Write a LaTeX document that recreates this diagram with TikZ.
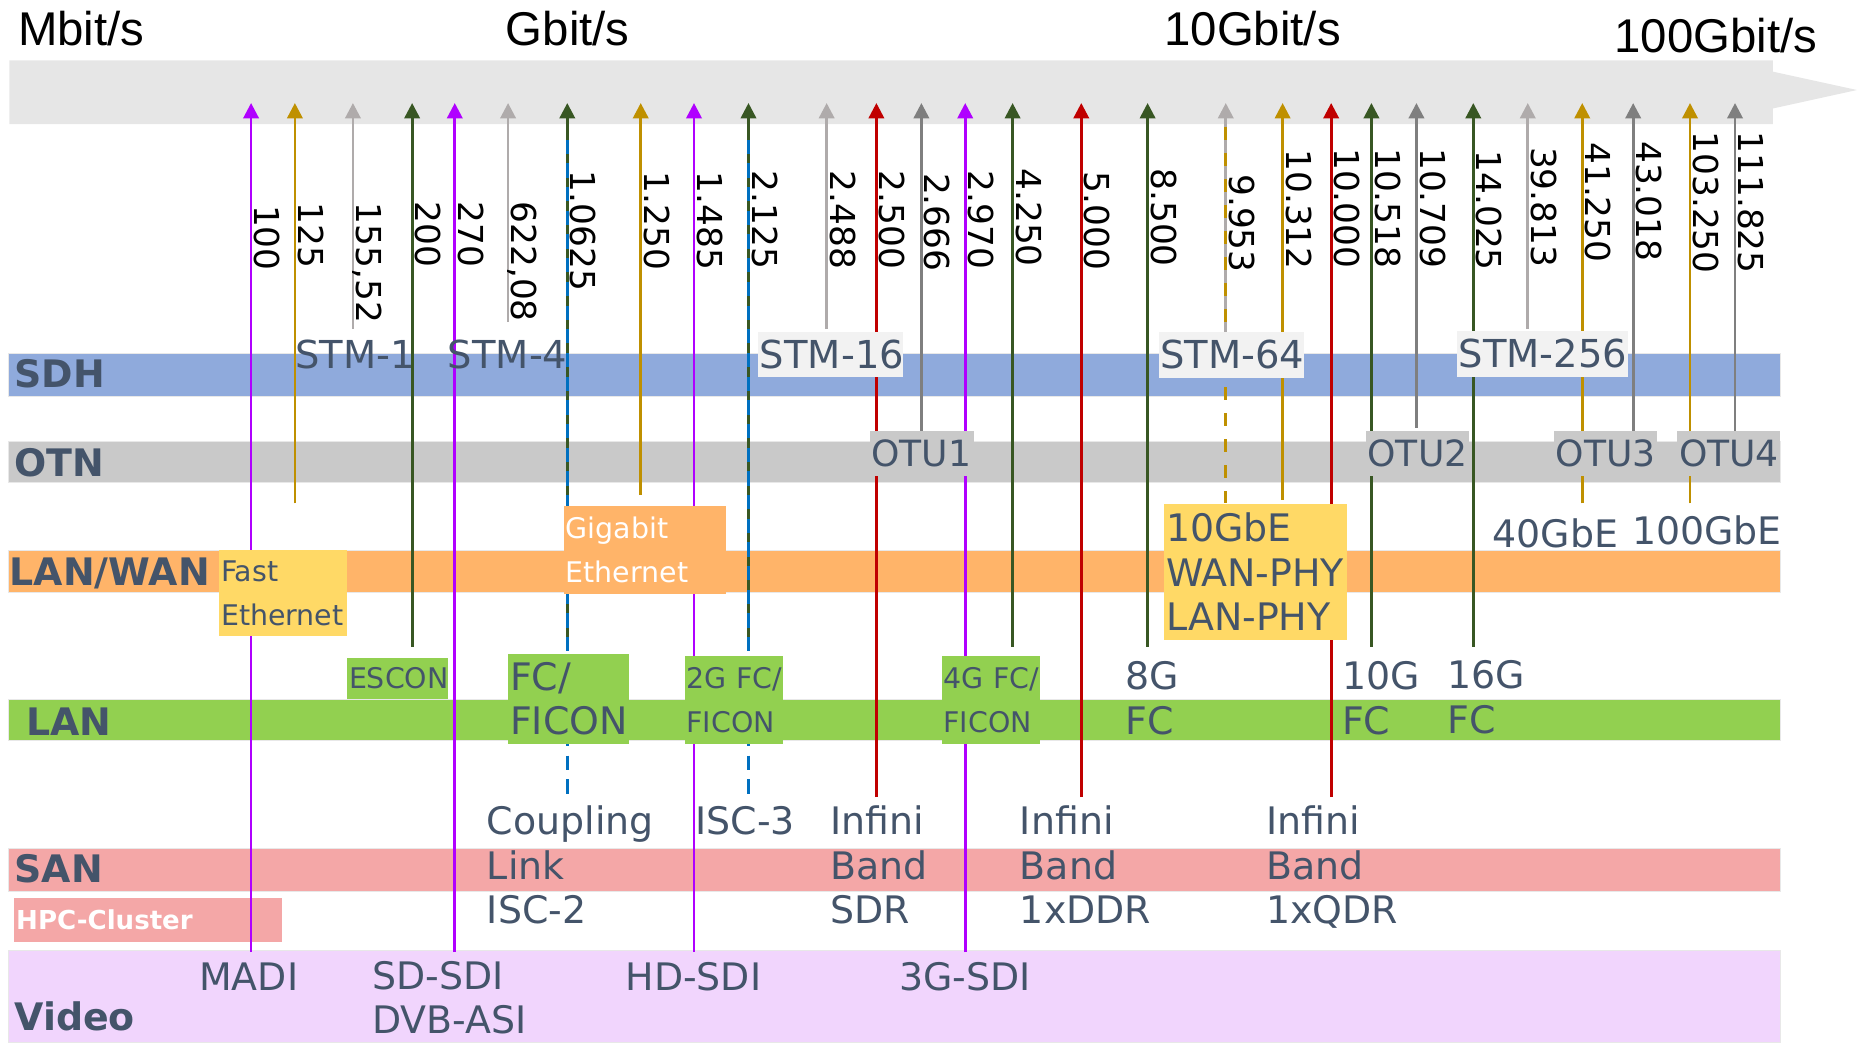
\documentclass[tikz,border=0pt]{standalone}
\usepackage{fontspec}
\usetikzlibrary{arrows.meta,positioning}

\newfontfamily\verdfont{DejaVu Sans}
\newfontfamily\arialfont{Liberation Sans}
\hyphenpenalty=10000
\exhyphenpenalty=10000

\definecolor{axisgray}{HTML}{E6E6E6}
\definecolor{sdhblue}{HTML}{8FAADC}
\definecolor{otngray}{HTML}{C9C9C9}
\definecolor{wanorange}{HTML}{FFB469}
\definecolor{langreen}{HTML}{92D050}
\definecolor{sanpink}{HTML}{F4A7A7}
\definecolor{vidlilac}{HTML}{F1D5FD}
\definecolor{yelbox}{HTML}{FFD966}
\definecolor{stmbox}{HTML}{F2F2F2}
\definecolor{txt}{HTML}{44546A}
\definecolor{vio}{HTML}{B000FF}
\definecolor{gold}{HTML}{BF9000}
\definecolor{lgray}{HTML}{AFABAB}
\definecolor{mgray}{HTML}{7F7F7F}
\definecolor{dgreen}{HTML}{385723}
\definecolor{dred}{HTML}{C00000}
\definecolor{blu}{HTML}{0070C0}

\newcommand\unitfont{\arialfont\fontsize{40}{48}\selectfont}
\newcommand\numfont{\verdfont\fontsize{29}{35}\selectfont}
\newcommand\lblfont{\verdfont\fontsize{32}{37.5}\selectfont}
\newcommand\stmfont{\verdfont\fontsize{32.5}{38}\selectfont}
\newcommand\otufont{\verdfont\fontsize{30.5}{36}\selectfont}
\newcommand\tagsmallfont{\verdfont\fontsize{24}{37}\selectfont}
\newcommand\bandfont{\verdfont\bfseries\fontsize{32}{38}\selectfont}
\newcommand\hpcfont{\verdfont\bfseries\fontsize{22}{26}\selectfont}

\begin{document}
\begin{tikzpicture}[
		x=1pt, y=-1pt,
		band/.style={anchor=north west, minimum width=1496pt, inner sep=0pt, draw=black!9, line width=1pt},
		bandlbl/.style={anchor=base west, inner sep=0pt, text=txt, font=\bandfont},
		tagbox/.style={anchor=north west, inner xsep=1.5pt, inner ysep=0pt, align=left, text=txt},
		tag/.style={anchor=base west, inner sep=0pt, align=left, text=txt, font=\lblfont},
		ratelbl/.style={anchor=base west, inner sep=0pt, rotate=-90, font=\numfont},
		rate/.style={line width=2.3pt, -{Triangle[width=13pt,length=13pt]}},
		ovdash/.style={line width=2.3pt, dash pattern=on 12pt off 8pt},
		unit/.style={anchor=base west, inner sep=0pt, font=\unitfont}
	]
	\useasboundingbox (0,0) rectangle (1568,881);

	% axis
	\fill[axisgray] (8,51) -- (1497,51) -- (1497,60.5) -- (1568,76) -- (1497,91.6) -- (1497,104.7) -- (8,104.7) -- cycle;

	\node[unit] (mbit) at (15,38) {Mbit/s};
	\node[unit] (gbit) at (427,38) {Gbit/s};
	\node[unit] (tengbit) at (983,38) {10Gbit/s};
	\node[unit] (hundredgbit) at (1363,44) {100Gbit/s};

	% bands
	\node[band, fill=sdhblue, minimum height=36pt] (sdh) at (7,298) {};
	\node[band, fill=otngray, minimum height=35pt] (otn) at (7,372) {};
	\node[band, fill=wanorange, minimum height=36pt] (wan) at (7,464) {};
	\node[band, fill=langreen, minimum height=35pt] (lan) at (7,590) {};
	\node[band, fill=sanpink, minimum height=36pt] (san) at (7,716) {};
	\node[band, fill=vidlilac, minimum height=78pt] (video) at (7,802) {};

	\node[tagbox, fill=sanpink, text=white, font=\hpcfont, text width=223pt, minimum height=37pt] (hpc) at (12,758) {HPC-Cluster};

	% rate lines
	\foreach \x/\b/\c/\t/\s in {
			212/804/vio/100/175, 249/425/gold/125/173, 298/278/lgray/{155,52}/173,
			348/546/dgreen/200/172, 384/804/vio/270/172, 429/272/lgray/{622,08}/172,
			479/545/dgreen/1.0625/146, 541/418/gold/1.250/147, 586/804/vio/1.485/147,
			632/545/dgreen/2.125/146, 698/278/lgray/2.488/146, 740/673/dred/2.500/146,
			778/365/mgray/2.666/148, 815/804/vio/2.970/146, 855/546/dgreen/4.250/144,
			913/673/dred/5.000/147, 969/546/dgreen/8.500/144, 1035/281/lgray/9.953/149,
			1083/422/gold/10.312/128, 1124/673/dred/10.000/127, 1158/546/dgreen/10.518/127,
			1196/361/mgray/10.709/127, 1244/546/dgreen/14.025/129, 1290/278/lgray/39.813/126,
			1336/425/gold/41.250/122, 1379/365/mgray/43.018/121, 1427/425/gold/103.250/113,
			1465/365/mgray/111.825/113}{
		\draw[rate, \c] (\x,\b) -- (\x,87);
		\node[ratelbl] (r\x) at (\x+3,\s-2) {\t};
	}
	\draw[ovdash, blu] (479,118) -- (479,677);
	\draw[ovdash, blu] (632,118) -- (632,677);
	\draw[ovdash, gold, dash pattern=on 11pt off 11pt] (1035,107) -- (1035,425);

	% boxes
	\node[tagbox, fill=yelbox, font=\tagsmallfont, text width=105pt, minimum height=73pt] (fasteth) at (185,464) {Fast\\Ethernet};
	\node[tagbox, fill=wanorange, text=white, font=\tagsmallfont, text width=134pt, minimum height=74pt] (gigeth) at (476,427) {Gigabit\\Ethernet};
	\node[tagbox, fill=langreen, font=\tagsmallfont, text width=82pt, minimum height=35pt] (escon) at (293,555) {ESCON};
	\node[tagbox, fill=langreen, font=\lblfont, text width=99pt, minimum height=76pt] (fcficon) at (429,552) {FC/\\FICON};
	\node[tagbox, fill=langreen, font=\tagsmallfont, text width=80pt, minimum height=74pt] (fctwo) at (578,554) {2G~FC/\\FICON};
	\node[tagbox, fill=langreen, font=\tagsmallfont, text width=80pt, minimum height=74pt] (fcfour) at (795,554) {4G~FC/\\FICON};
	\node[tagbox, fill=yelbox, font=\lblfont, text width=151pt, minimum height=115pt] (tengbe) at (983,425) {10GbE\\WAN-PHY\\LAN-PHY};
	\node[tagbox, fill=stmbox, font=\stmfont, text width=119pt, minimum height=38pt] (stmxvi) at (640,280) {STM-16};
	\node[tagbox, fill=stmbox, font=\stmfont, text width=120pt, minimum height=39pt] (stmlxiv) at (978,280) {STM-64};
	\node[tagbox, fill=stmbox, font=\stmfont, text width=141pt, minimum height=39pt] (stmcclvi) at (1230,279) {STM-256};
	\node[tagbox, fill=otngray, font=\otufont, text width=85pt, minimum height=38pt] (otui) at (734,364) {OTU1};
	\node[tagbox, fill=otngray, font=\otufont, text width=84pt, minimum height=38pt] (otuii) at (1153,364) {OTU2};
	\node[tagbox, fill=otngray, font=\otufont, text width=84pt, minimum height=38pt] (otuiii) at (1312,364) {OTU3};
	\node[tagbox, fill=otngray, font=\otufont, text width=84pt, minimum height=38pt] (otuiv) at (1416,364) {OTU4};

	% free labels (base = last line)
	\node[tag, font=\stmfont] (stmi) at (249,311) {STM-1};
	\node[tag, font=\stmfont] (stmiv) at (378,311) {STM-4};
	\node[tag] (fortygbe) at (1260,462) {40GbE};
	\node[tag] (hundredgbe) at (1378,460) {100GbE};
	\node[tag] (fceight) at (950,620) {8G\\FC};
	\node[tag] (fcten) at (1133,620) {10G\\FC};
	\node[tag] (fcsixteen) at (1222,619) {16G\\FC};
	\node[tag] (coupling) at (411,780) {Coupling\\Link\\ISC-2};
	\node[tag] (iscthree) at (587,705) {ISC-3};
	\node[tag] (ibsdr) at (701,780) {Infini\\Band\\SDR};
	\node[tag] (ibddr) at (861,780) {Infini\\Band\\1xDDR};
	\node[tag] (ibqdr) at (1069,780) {Infini\\Band\\1xQDR};
	\node[tag] (madi) at (168,836) {MADI};
	\node[tag] (sdsdi) at (314,873) {SD-SDI\\DVB-ASI};
	\node[tag] (hdsdi) at (528,836) {HD-SDI};
	\node[tag] (gsdi) at (759,836) {3G-SDI};

	% band labels
	\node[bandlbl] (sdhlbl) at (12,327) {SDH};
	\node[bandlbl] (otnlbl) at (12,402) {OTN};
	\node[bandlbl] (wanlbl) at (8,494) {LAN/WAN};
	\node[bandlbl] (lanlbl) at (22,621) {LAN};
	\node[bandlbl] (sanlbl) at (12,745) {SAN};
	\node[bandlbl] (videolbl) at (12,870) {Video};
\end{tikzpicture}
\end{document}
